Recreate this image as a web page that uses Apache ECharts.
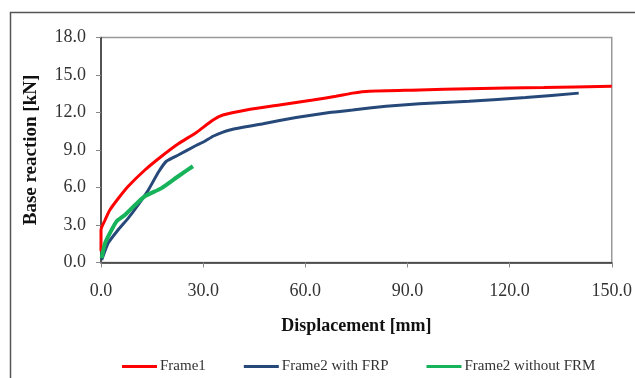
<!DOCTYPE html>
<html><head><meta charset="utf-8">
<script src="https://cdn.jsdelivr.net/npm/echarts@6/dist/echarts.min.js"></script>
<style>html,body{margin:0;padding:0;background:#fff}#c{width:635px;height:378px}</style>
</head><body><div id="c"></div>
<script>
const seriesNames = ['Frame1', 'Frame2 with FRP', 'Frame2 without FRM'];
const frame1 = [[0,0.9],[0,2.6],[1.2,3.4],[2.6,4.2],[5.0,5.1],[8.0,6.1],[12.9,7.4],[17.8,8.5],[22.7,9.5],[28.0,10.4],[32.9,11.4],[35.8,11.8],[42.7,12.2],[52.4,12.6],[62.2,13.0],[69.0,13.3],[73.9,13.55],[78.8,13.7],[93.5,13.8],[108.1,13.9],[130,14.0],[150,14.1]];
const frame2FRP = [[0.2,0.2],[2.1,1.55],[5.0,2.6],[8.0,3.55],[10.9,4.6],[13.9,5.8],[16.8,7.2],[19.2,8.1],[22.7,8.6],[27.5,9.3],[30.5,9.7],[32.9,10.1],[37.8,10.6],[47.6,11.1],[57.3,11.6],[67.1,12.0],[73.9,12.2],[83.7,12.5],[93.5,12.7],[108.1,12.9],[124.7,13.2],[140.3,13.55]];
const frame2noFRM = [[0.2,0.35],[1.2,1.55],[3.1,2.6],[4.6,3.3],[7.0,3.8],[10.0,4.6],[12.9,5.3],[17.8,5.95],[22.7,6.9],[27.0,7.7]];
const xTicks = [0, 30, 60, 90, 120, 150];
const yTicks = [0, 3, 6, 9, 12, 15, 18];
const colors = ['#ff0000', '#26497a', '#16b35a'];

const chart = echarts.init(document.getElementById('c'), null, {renderer: 'canvas'});
const font = '"Liberation Serif", "DejaVu Serif", serif';
chart.setOption({
  animation: false,
  backgroundColor: '#fff',
  graphic: [{
    type: 'rect', shape: {x: 10.5, y: 12.5, width: 700, height: 500},
    style: {fill: 'none', stroke: '#555', lineWidth: 1.5}, z: -1
  }],
  grid: {left: 101, top: 37.5, right: 22, bottom: 115.5, show: true, borderColor: '#999', borderWidth: 1.5},
  xAxis: {
    type: 'value', min: xTicks[0], max: xTicks[xTicks.length-1], interval: 30,
    name: 'Displacement [mm]', nameLocation: 'middle', nameGap: 55,
    nameTextStyle: {fontFamily: font, fontSize: 18, fontWeight: 'bold', color: '#111'},
    axisLine: {show: true, lineStyle: {color: '#333', width: 1.5}},
    axisTick: {show: true, length: 5, lineStyle: {color: '#888'}},
    axisLabel: {fontFamily: font, fontSize: 18, color: '#333', margin: 20, formatter: v => v.toFixed(1)},
    splitLine: {show: false}
  },
  yAxis: {
    type: 'value', min: yTicks[0], max: yTicks[yTicks.length-1], interval: 3,
    name: 'Base reaction [kN]', nameLocation: 'middle', nameGap: 60, nameRotate: 90,
    nameTextStyle: {fontFamily: font, fontSize: 19, fontWeight: 'bold', color: '#111'},
    axisLine: {show: true, lineStyle: {color: '#333', width: 1.5}},
    axisTick: {show: true, length: 5, lineStyle: {color: '#888'}},
    axisLabel: {fontFamily: font, fontSize: 18, color: '#333', margin: 15, formatter: v => v.toFixed(1)},
    splitLine: {show: false}
  },
  legend: {
    top: 354, left: 117, itemWidth: 35, itemHeight: 3, itemGap: 38,
    icon: 'rect',
    textStyle: {fontFamily: font, fontSize: 15, color: '#333', padding: [0,0,0,-2]},
    data: seriesNames
  },
  series: [
    {name: seriesNames[0], type: 'line', data: frame1, smooth: 0.25, showSymbol: false, lineStyle: {color: colors[0], width: 3}, itemStyle: {color: colors[0]}, z: 3},
    {name: seriesNames[1], type: 'line', data: frame2FRP, smooth: 0.15, showSymbol: false, lineStyle: {color: colors[1], width: 3}, itemStyle: {color: colors[1]}, z: 2},
    {name: seriesNames[2], type: 'line', data: frame2noFRM, smooth: 0.2, showSymbol: false, lineStyle: {color: colors[2], width: 4}, itemStyle: {color: colors[2]}, z: 4}
  ]
});
</script></body></html>
